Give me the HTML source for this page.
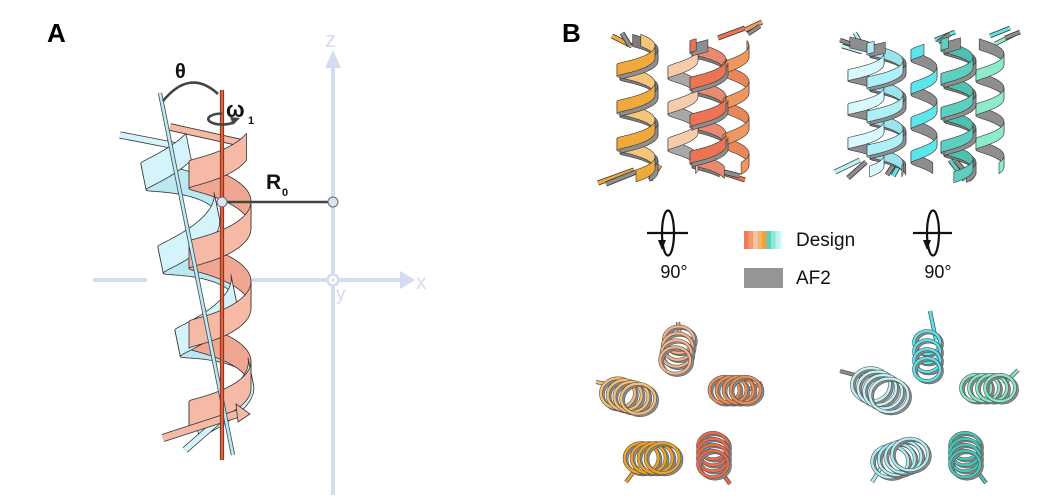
<!DOCTYPE html>
<html><head><meta charset="utf-8"><style>
html,body{margin:0;padding:0;background:#fff;width:1040px;height:500px;overflow:hidden}
svg{display:block}
text{font-family:"Liberation Sans",Arial,sans-serif}
</style></head><body>
<svg id="s" xmlns="http://www.w3.org/2000/svg" width="1040" height="500" viewBox="0 0 1040 500">
<rect width="1040" height="500" fill="#fff"/>
<text x="47" y="42" font-size="26" font-weight="bold" fill="#000">A</text>
<text x="562" y="42" font-size="26" font-weight="bold" fill="#000">B</text>

<g stroke="#d5dcef" stroke-width="4" fill="none">
<line x1="333" y1="66" x2="333" y2="495"/>
<line x1="93" y1="280" x2="147" y2="280"/>
<line x1="240" y1="280" x2="403" y2="280"/>
</g>
<polygon points="333,50 325,68 341,68" fill="#d5dcef"/>
<polygon points="415,280 400,271 400,289" fill="#d5dcef"/>
<circle cx="333" cy="280" r="5.5" fill="#fff" stroke="#d5dcef" stroke-width="2.5"/>
<circle cx="333" cy="280" r="1.6" fill="#d5dcef"/>
<text x="325" y="47" font-size="22" fill="#d5dcef">z</text>
<text x="416" y="289" font-size="21" fill="#d5dcef">x</text>
<text x="336" y="300" font-size="19" fill="#d5dcef">y</text>

<g id="gA"></g>

<line x1="160" y1="93" x2="233" y2="455" stroke="#3a4a50" stroke-width="4.2"/>
<line x1="160" y1="93" x2="233" y2="455" stroke="#bfeaf3" stroke-width="2.6"/>
<line x1="222" y1="90" x2="222" y2="460" stroke="#6e2414" stroke-width="4.2"/>
<line x1="222" y1="90" x2="222" y2="460" stroke="#e3613f" stroke-width="2.6"/>

<path d="M163,101 Q190,68 218,94" fill="none" stroke="#444" stroke-width="2.6"/>
<text x="175" y="78" font-size="20" font-weight="bold" fill="#111">θ</text>
<path d="M222,113.5 A14,5.5 0 1,0 234,122" fill="none" stroke="#444" stroke-width="2.6"/>
<polygon points="240,118 230,117 233,125" fill="#444"/>
<text x="226" y="117" font-size="22" font-weight="bold" fill="#111">ω</text>
<text x="248" y="124" font-size="11" font-weight="bold" fill="#111">1</text>
<line x1="222" y1="202" x2="333" y2="202" stroke="#444" stroke-width="2.6"/>
<circle cx="222" cy="202" r="5" fill="#dde3f0" stroke="#667" stroke-width="1"/>
<circle cx="333" cy="202" r="5" fill="#dde3f0" stroke="#667" stroke-width="1"/>
<text x="266" y="189" font-size="21" font-weight="bold" fill="#111">R</text>
<text x="282" y="196" font-size="11" font-weight="bold" fill="#111">0</text>

<g id="gB1"></g>
<g id="gB2"></g>

<g stroke="#111" stroke-width="2.2" fill="none">
<line x1="647" y1="233" x2="688" y2="233"/>
<ellipse cx="668" cy="233" rx="6" ry="22.5"/>
<line x1="913" y1="233" x2="952" y2="233"/>
<ellipse cx="933" cy="233" rx="6" ry="22.5"/>
</g>
<polygon points="658,240 666,240 662,250" fill="#111"/>
<polygon points="923,240 931,240 927,250" fill="#111"/>
<text x="674" y="278" font-size="18" fill="#111" text-anchor="middle">90°</text>
<text x="938" y="278" font-size="18" fill="#111" text-anchor="middle">90°</text>

<g>
<rect x="744" y="231" width="5" height="18" fill="#ef7b5c"/>
<rect x="748.5" y="231" width="5" height="18" fill="#f39a74"/>
<rect x="753" y="231" width="5" height="18" fill="#f7c3a5"/>
<rect x="757.5" y="231" width="5" height="18" fill="#f5b46a"/>
<rect x="762" y="231" width="5" height="18" fill="#f0a23a"/>
<rect x="766.5" y="231" width="5" height="18" fill="#5ccfc2"/>
<rect x="771" y="231" width="5" height="18" fill="#8eead0"/>
<rect x="775.5" y="231" width="4" height="18" fill="#b8f3f8"/>
<rect x="779.5" y="231" width="2.5" height="18" fill="#d9fbfd"/>
</g>
<text x="796" y="246" font-size="19" fill="#111">Design</text>
<rect x="744" y="268" width="39" height="20" fill="#959595"/>
<text x="796" y="284" font-size="19" fill="#111">AF2</text>

<g id="gC"></g>
</svg>
<script>
(function(){
var NS='http://www.w3.org/2000/svg';
function mk(p,tag,a){var e=document.createElementNS(NS,tag);for(var k in a)e.setAttribute(k,a[k]);p.appendChild(e);return e;}
function segs(o){
  var dx=o.x1-o.x0, dy=o.y1-o.y0, L=Math.hypot(dx,dy);
  var ux=dx/L, uy=dy/L, nx=-uy, ny=ux;
  var T=L/o.pitch*2*Math.PI;
  var el=(o.elev===undefined)?0.25:o.elev;
  function P(t,e){var a=t+o.phase;var s=t/T*L+e*o.w/2-el*o.A*Math.cos(a);var c=o.A*Math.sin(a);
    return (o.x0+ux*s+nx*c).toFixed(1)+','+(o.y0+uy*s+ny*c).toFixed(1);}
  var N=Math.ceil(T/0.05), ts=[];for(var i=0;i<=N;i++)ts.push(T*i/N);
  var runs=[],run=null;
  for(i=0;i<N;i++){var m=(ts[i]+ts[i+1])/2;var f=Math.cos(m+o.phase)>0;
    if(!run||run.f!==f){run={f:f,ts:[ts[i]]};runs.push(run);}run.ts.push(ts[i+1]);}
  return runs.map(function(r){var top=r.ts.map(function(t){return P(t,1);});var bot=r.ts.map(function(t){return P(t,-1);}).reverse();
    return {f:r.f,d:'M'+top.concat(bot).join('L')+'Z'};});
}
function drawHelices(g,list){
  var all=list.map(function(o){return {o:o,s:segs(o)};});
  all.forEach(function(h){h.s.forEach(function(x){if(!x.f)mk(g,'path',{d:x.d,fill:h.o.back,stroke:h.o.sc||'#333','stroke-width':h.o.sw||0.8,'stroke-linejoin':'round'});});});
  all.forEach(function(h){h.s.forEach(function(x){if(x.f)mk(g,'path',{d:x.d,fill:h.o.front,stroke:h.o.sc||'#333','stroke-width':h.o.sw||0.8,'stroke-linejoin':'round'});});});
}
function rod(g,x1,y1,x2,y2,col,w,sc){
  mk(g,'line',{x1:x1,y1:y1,x2:x2,y2:y2,stroke:sc||'#333','stroke-width':w+1.6});
  mk(g,'line',{x1:x1,y1:y1,x2:x2,y2:y2,stroke:col,'stroke-width':w});
}
var gA=document.getElementById('gA');
rod(gA,120,135,187,148,'#d4f3fb',5.5);
rod(gA,170,127,242,143,'#f6b9a6',6);
drawHelices(gA,[
 {x0:226,y0:415,x1:170,y1:142,A:33,pitch:85,w:27,phase:-1.2,front:'#d4f3fb',back:'#bde8f2',elev:0.3},
 {x0:220,y0:418,x1:220,y1:142,A:31,pitch:80,w:27,phase:-1.81,front:'#f6b9a6',back:'#f0a690',elev:0.3}
]);
rod(gA,185,450,224,416,'#d4f3fb',5.5);
rod(gA,163,438,243,412,'#f6b9a6',6.5);
mk(gA,'polygon',{points:'236,404 250,414 238,422',fill:'#f6b9a6',stroke:'#333','stroke-width':0.8});

var G='#8e8e8e';
var g1=document.getElementById('gB1');
rod(g1,598,183,634,170,'#f2a93b',3.5);rod(g1,606,184,636,172,G,3.5);
rod(g1,612,36,632,46,'#f2a93b',3.5);rod(g1,622,33,630,46,G,3.5);
rod(g1,718,38,745,28,'#ec7354',3.5);rod(g1,745,30,762,22,'#f0965f',3.5);rod(g1,748,34,760,26,G,3);
rod(g1,720,172,745,180,'#ec7354',3.5);rod(g1,716,170,740,176,G,3.5);
rod(g1,650,180,660,165,'#f2a93b',3.5);
drawHelices(g1,[
 {x0:683,y0:166,x1:683,y1:50,A:15,pitch:36,w:12,phase:1.0,front:'#f8cbab',back:'#a8a8a8',elev:0.2,sw:0.6},
 {x0:736,y0:166,x1:736,y1:48,A:13,pitch:36,w:12,phase:0.4,front:'#f0965f',back:'#e8875a',elev:0.2,sw:0.6},
 {x0:639,y0:172,x1:639,y1:44,A:19,pitch:37,w:12,phase:0.6,front:G,back:'#7d7d7d',elev:0.2,sw:0.6},
 {x0:636,y0:172,x1:636,y1:44,A:19,pitch:37,w:12,phase:0,front:'#f2a93b',back:'#f5c57a',elev:0.2,sw:0.6},
 {x0:710,y0:174,x1:710,y1:42,A:18,pitch:37,w:12,phase:2.6,front:G,back:'#7d7d7d',elev:0.2,sw:0.6},
 {x0:708,y0:174,x1:708,y1:42,A:18,pitch:37,w:12,phase:2.0,front:'#ec7354',back:'#e88a70',elev:0.2,sw:0.6}
]);
var g2=document.getElementById('gB2');
rod(g2,840,40,862,48,G,3);rod(g2,842,46,862,52,'#c8f6fa',3);rod(g2,855,33,862,45,'#aaf0f8',3);
rod(g2,835,172,860,160,'#bdf3f8',3.5);rod(g2,848,178,866,162,G,3.5);
rod(g2,893,176,902,160,'#5ce6ea',3.5);rod(g2,887,175,897,160,G,3.5);
rod(g2,965,180,950,160,'#5ccfbf',3.5);rod(g2,972,180,955,160,G,3.5);
rod(g2,990,36,1010,28,'#5ce6ea',3);rod(g2,995,44,1015,34,'#8eeacd',3);rod(g2,1005,38,1020,32,G,3);
rod(g2,935,40,955,32,'#5ce6ea',3);rod(g2,938,42,950,34,G,3);
drawHelices(g2,[
 {x0:990,y0:166,x1:990,y1:46,A:14,pitch:34,w:11,phase:0.7,front:'#8eeacd',back:G,elev:0.2,sw:0.6},
 {x0:866,y0:168,x1:866,y1:44,A:18,pitch:34,w:11,phase:0.2,front:'#d6fafd',back:G,elev:0.2,sw:0.6},
 {x0:888,y0:170,x1:888,y1:44,A:18,pitch:34,w:11,phase:1.7,front:G,back:'#7d7d7d',elev:0.2,sw:0.6},
 {x0:885,y0:170,x1:885,y1:44,A:18,pitch:34,w:11,phase:1.2,front:'#aef0f8',back:'#9be4ee',elev:0.2,sw:0.6},
 {x0:924,y0:170,x1:924,y1:47,A:13,pitch:34,w:11,phase:2.4,front:'#5ce6ea',back:G,elev:0.2,sw:0.6},
 {x0:960,y0:174,x1:960,y1:40,A:16,pitch:34,w:11,phase:0.4,front:G,back:'#7d7d7d',elev:0.2,sw:0.6},
 {x0:957,y0:174,x1:957,y1:40,A:16,pitch:34,w:11,phase:-0.2,front:'#5ccfbf',back:'#4fc0b0',elev:0.2,sw:0.6}
]);

var gC=document.getElementById('gC');
function ring(g,cx,cy,rx,ry,col){
  mk(g,'ellipse',{cx:cx,cy:cy,rx:rx,ry:ry,fill:'none',stroke:'#555','stroke-width':3.6});
  mk(g,'ellipse',{cx:cx,cy:cy,rx:rx,ry:ry,fill:'none',stroke:col,'stroke-width':2.4});
}
function coil(c){
  var a=c.ang*Math.PI/180, n=c.n, ca=Math.cos(a), sa=Math.sin(a);
  if(c.tail) rod(gC,c.tail[0],c.tail[1],c.tail[2],c.tail[3],c.tcol||c.col,2.6,'#555');
  for(var i=0;i<n;i++){
    var k=i-(n-1)/2, x=c.x+ca*k*c.sp, y=c.y+sa*k*c.sp;
    ring(gC,x+2,y+1.5,c.r,c.r*(c.sq||0.88),'#8c8c8c');
    ring(gC,x,y,c.r,c.r*(c.sq||0.88),c.col);
  }
}
[
 {x:677,y:350,r:15,ang:100,sp:7,n:4,col:'#f6b286',tail:[678,322,680,336]},
 {x:628,y:396,r:17,ang:15,sp:7,n:4,col:'#f7bd72',tail:[596,382,616,386]},
 {x:735,y:390,r:15,ang:0,sp:7,n:4,col:'#f08c50',tail:[762,383,748,390]},
 {x:652,y:458,r:17,ang:0,sp:7,n:4,col:'#f1a322',tail:[626,482,638,466]},
 {x:713,y:455,r:15,ang:90,sp:6,n:4,col:'#ee6a48',tail:[730,484,720,470]},
 {x:927,y:356,r:13,ang:90,sp:9,n:4,col:'#55e6ef',tail:[930,311,936,340]},
 {x:880,y:390,r:19,ang:30,sp:7,n:4,col:'#c0f4f8',tail:[840,371,866,378],tcol:'#8c8c8c'},
 {x:988,y:388,r:15,ang:0,sp:8,n:4,col:'#84e8c8',tail:[1018,370,1004,384]},
 {x:900,y:458,r:18,ang:-20,sp:7,n:4,col:'#a8eff6',tail:[872,482,882,466]},
 {x:965,y:455,r:15,ang:90,sp:6,n:4,col:'#40c9b9',tail:[986,483,976,470]}
].forEach(coil);
})();
</script>
</body></html>
